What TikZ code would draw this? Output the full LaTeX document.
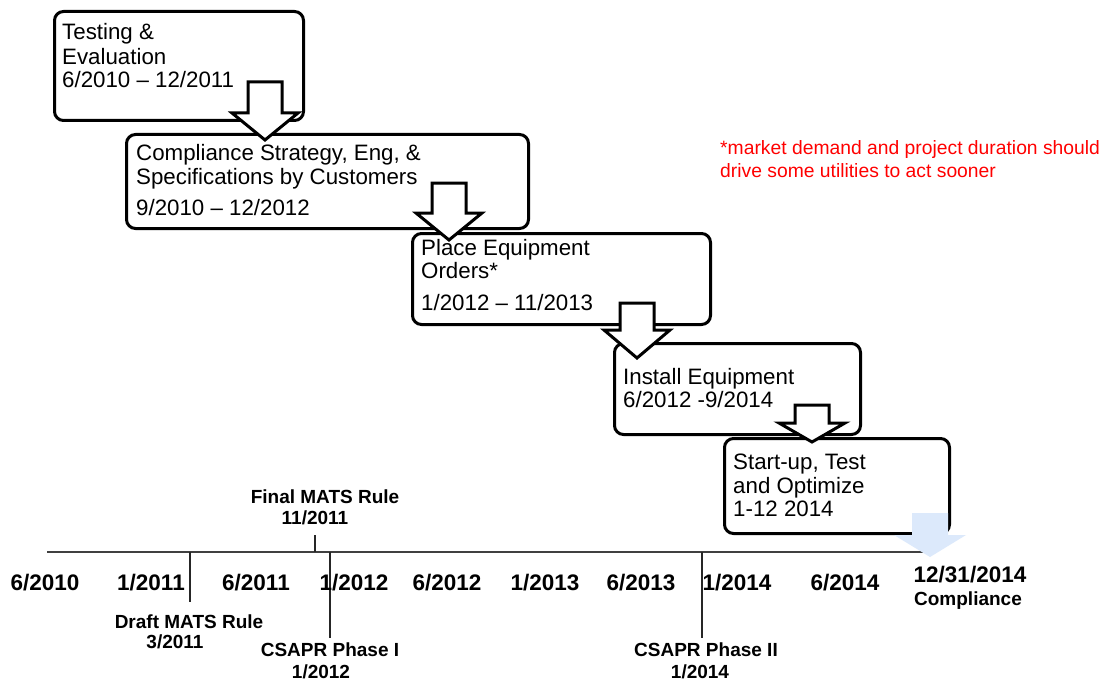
\documentclass[tikz,border=0pt]{standalone}
\usepackage{fontspec}
\setmainfont{Liberation Sans}
\definecolor{lightblue}{RGB}{220,233,251}
\definecolor{tlgray}{RGB}{64,64,64}
\newcommand{\blkarrow}[4]{\draw[#1] (#2) ++(-17,0) -- ++(34,0) -- ++(0,#3) -- ++(16,0) -- ++(-33,#4) -- ++(-33,-#4) -- ++(16,0) -- cycle;}
\tikzset{
  box/.style={draw, line width=3pt, rounded corners=9pt, fill=white, anchor=north west, inner sep=0pt},
  blockarrow/.style={draw, line width=3pt, fill=white, line join=miter},
  bodytxt/.style={anchor=base west, inner sep=0pt, font=\fontsize{22.3}{26}\selectfont},
  datetxt/.style={anchor=base, inner sep=0pt, font=\bfseries\fontsize{22.5}{26}\selectfont},
  eventtxt/.style={anchor=base, inner sep=0pt, font=\bfseries\fontsize{19}{22}\selectfont},
  notetxt/.style={anchor=base west, inner sep=0pt, text=red, font=\fontsize{19.3}{22}\selectfont},
  tline/.style={draw=tlgray, line width=1.3pt},
  tick/.style={draw=black!85, line width=1.1pt}
}
\begin{document}
\begin{tikzpicture}[x=1pt,y=-1pt]
\path[use as bounding box, fill=white] (0,0) rectangle (1105,682);

% Box 1
\node[box, minimum width=249pt, minimum height=109pt] (b1) at (53,10) {};
\node[bodytxt] (b1l1) at (62,40) {Testing \&};
\node[bodytxt] (b1l2) at (62,65) {Evaluation};
\node[bodytxt] (b1l3) at (62,88) {6/2010 -- 12/2011};

% Box 2
\node[box, minimum width=402pt, minimum height=94pt] (b2) at (125,133) {};
\node[bodytxt] (b2l1) at (136,160) {Compliance Strategy, Eng, \&};
\node[bodytxt] (b2l2) at (136,184) {Specifications by Customers};
\node[bodytxt] (b2l3) at (136,215) {9/2010 -- 12/2012};

% Arrow 1
\coordinate (a1) at (265,82);
\blkarrow{blockarrow}{a1}{31}{27}

% Box 3
\node[box, minimum width=298pt, minimum height=91pt] (b3) at (411,232) {};
\node[bodytxt] (b3l1) at (421,255) {Place Equipment};
\node[bodytxt] (b3l2) at (421,278) {Orders*};
\node[bodytxt] (b3l3) at (421,310) {1/2012 -- 11/2013};

% Arrow 2
\coordinate (a2) at (449,183);
\blkarrow{blockarrow}{a2}{30}{27}

% Box 4
\node[box, minimum width=246pt, minimum height=91pt] (b4) at (613,342) {};
\node[bodytxt] (b4l1) at (623,384) {Install Equipment};
\node[bodytxt] (b4l2) at (623,407) {6/2012 -9/2014};

% Arrow 3
\coordinate (a3) at (637,303);
\blkarrow{blockarrow}{a3}{27}{28}

% Box 5
\node[box, minimum width=225pt, minimum height=95pt] (b5) at (723,437) {};
\node[bodytxt] (b5l1) at (733,469) {Start-up, Test};
\node[bodytxt] (b5l2) at (733,493) {and Optimize};
\node[bodytxt] (b5l3) at (733,516) {1-12 2014};

% Arrow 4
\coordinate (a4) at (812,405);
\blkarrow{blockarrow}{a4}{18}{19}

% Note
\node[notetxt] (n1) at (720,154) {*market demand and project duration should};
\node[notetxt] (n2) at (720,177) {drive some utilities to act sooner};

% Timeline
\coordinate (tl0) at (47,552);
\coordinate (tl1) at (930,552);
\draw[tline] (tl0) -- (tl1);

% Event ticks
\coordinate (fmT) at (315,535);
\draw[tick] (fmT) -- (fmT |- tl0);
\coordinate (dmB) at (190,602);
\draw[tick] (dmB |- tl0) -- (dmB);
\coordinate (c1B) at (330,638);
\draw[tick] (c1B |- tl0) -- (c1B);
\coordinate (c2B) at (702,638);
\draw[tick] (c2B |- tl0) -- (c2B);

% Compliance arrow (light blue)
\coordinate (ca) at (930,513);
\fill[lightblue] (ca) ++(-18,0) -- ++(36,0) -- ++(0,22) -- ++(18,0) -- ++(-36,22) -- ++(-36,-22) -- ++(18,0) -- cycle;

% Date labels
\node[datetxt] (d1) at (45,590) {6/2010};
\node[datetxt] (d2) at (151,590) {1/2011};
\node[datetxt] (d3) at (256,590) {6/2011};
\node[datetxt] (d4) at (354,590) {1/2012};
\node[datetxt] (d5) at (447,590) {6/2012};
\node[datetxt] (d6) at (545,590) {1/2013};
\node[datetxt] (d7) at (641,590) {6/2013};
\node[datetxt] (d8) at (737,590) {1/2014};
\node[datetxt] (d9) at (845,590) {6/2014};
\node[datetxt] (d10) at (970,582) {12/31/2014};
\node[eventtxt] (d10b) at (968,605) {Compliance};

% Event labels
\node[eventtxt] (fm1) at (325,503) {Final MATS Rule};
\node[eventtxt] (fm2) at (315,524) {11/2011};
\node[eventtxt] (dm1) at (189,628) {Draft MATS Rule};
\node[eventtxt] (dm2) at (175,648) {3/2011};
\node[eventtxt] (c11) at (330,656) {CSAPR Phase I};
\node[eventtxt] (c12) at (321,678) {1/2012};
\node[eventtxt] (c21) at (706,656) {CSAPR Phase II};
\node[eventtxt] (c22) at (700,678) {1/2014};
\end{tikzpicture}
\end{document}
